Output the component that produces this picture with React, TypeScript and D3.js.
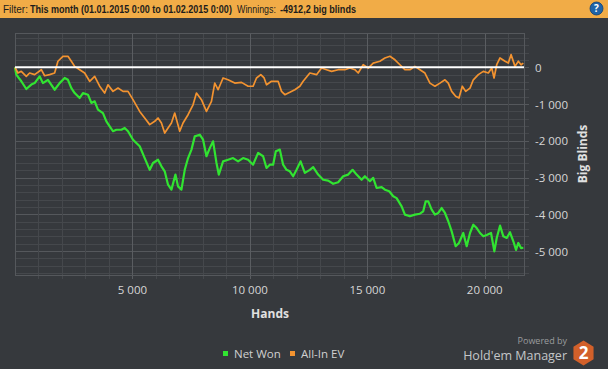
import React, { useLayoutEffect, useRef, useState } from "react";
import * as d3 from "d3";

const W = 608;
const H = 369;

// Net Won (big blinds) by hands played
const netWonHands = [0,55,268,481,694,835,1048,1189,1402,1687,1900,2114,2254,2399,2540,2753,2893,3106,3251,3392,3532,3745,3890,4031,4172,4316,4529,4670,4811,5024,
5309,5522,5735,5876,6089,6234,6374,6515,6660,6830,6941,7086,7227,7368,7513,7653,7866,8007,8151,8292,8433,8578,8676,8858,9071,9284,9498,9711,9924,10137,10350,10563,
10708,10848,10989,11104,11275,11415,11560,11701,11841,11986,12157,12340,12553,12694,12906,13119,13333,13546,13759,13972,14185,14372,14543,14756,14896,15109,15250,15395,15608,15749,15932,
16102,16247,16460,16600,16813,17026,17239,17380,17482,17594,17738,17879,18020,18164,18305,18446,18591,18761,18902,19085,19230,19371,19512,19656,19797,19938,20083,20266,20407,20509,20649,20790,20935,21075,21216,21331,21429,21544,21642];
const netWonValues = [0,-200,-380,-590,-470,-430,-245,-430,-340,-610,-430,-290,-340,-565,-700,-835,-700,-745,-970,-925,-1150,-1245,-1470,-1605,-1740,-1700,-1700,-1650,-1740,-1970,
-2150,-2470,-2790,-2605,-2515,-2695,-2830,-3195,-3330,-2920,-3240,-3330,-2790,-2470,-2240,-1880,-1835,-1970,-2420,-2200,-2015,-2605,-2920,-2560,-2515,-2470,-2560,-2470,-2515,-2650,-2330,-2420,
-2740,-2650,-2650,-2285,-2240,-2650,-2790,-2830,-2965,-2790,-2560,-2875,-2790,-2715,-2920,-3060,-3085,-3170,-3130,-2965,-2920,-2790,-2920,-3060,-2965,-3100,-3010,-3285,-3260,-3330,-3375,
-3510,-3560,-3785,-4010,-4055,-4010,-3985,-3920,-3650,-3650,-3875,-4010,-3965,-3830,-3965,-4190,-4465,-4870,-4780,-4510,-4870,-4510,-4285,-4375,-4510,-4600,-4565,-4510,-5010,-4645,-4310,-4600,-4645,-4490,-4735,-4970,-4780,-4920,-4912];

// All-In EV (big blinds) by hands played
const allInHands = [0,124,268,481,622,835,1121,1261,1474,1687,1828,2041,2254,2399,2540,2753,2966,3179,3392,3605,3818,3958,4172,4385,4598,4811,5024,
5309,5522,5735,5948,6089,6234,6374,6515,6660,6800,7013,7154,7368,7580,7725,7938,8151,8364,8504,8646,8858,9071,9357,9643,9924,10137,10282,10465,10606,
10708,10921,11202,11347,11488,11701,11914,12127,12268,12553,12838,13051,13264,13477,13759,14044,14257,14470,14611,14824,15037,15250,15535,15749,15962,
16174,16387,16600,16813,17026,17239,17452,17665,17879,18092,18305,18446,18591,18761,18902,19043,19188,19371,19512,19725,19938,20151,20296,20394,20509,20649,20862,21003,21118,21288,21429,21544,21642];
const allInValues = [0,-155,-110,-245,-155,-200,-65,-230,-200,-155,165,300,300,165,25,-65,-155,-380,-245,-515,-700,-475,-655,-565,-655,-655,-880,
-1200,-1380,-1560,-1470,-1380,-1515,-1790,-1650,-1515,-1245,-1740,-1515,-1290,-1020,-700,-880,-1200,-925,-430,-610,-290,-340,-430,-410,-515,-515,-290,-200,-290,
-475,-380,-380,-655,-745,-680,-610,-515,-380,-155,-200,-20,-65,-110,-65,-65,-20,-65,-155,70,-20,115,165,255,300,
205,70,-65,-65,25,-65,-155,-430,-515,-430,-340,-430,-655,-790,-835,-515,-655,-565,-340,-200,-110,-155,-20,-290,70,255,165,115,345,25,165,70,115];

const xTickValues = [5000, 10000, 15000, 20000];
const yTickValues = [0, -1000, -2000, -3000, -4000, -5000];
const seriesNames = ["Net Won", "All-In EV"];
const seriesColors = ["#31e431", "#f39330"];
const headerParts = ["Filter:", "This month (01.01.2015 0:00 to 01.02.2015 0:00)", "Winnings:", "-4912,2 big blinds"];

const locale = d3.formatLocale({ decimal: ",", thousands: " ", grouping: [3], currency: ["", ""], minus: "-" });
const fmt = locale.format(",d");

function pairs(xs: number[], ys: number[]): [number, number][] {
  const n = Math.min(xs.length, ys.length);
  const out: [number, number][] = [];
  for (let i = 0; i < n; i++) out.push([xs[i], ys[i]]);
  return out;
}

function FitText(props: { x: number; y: number; width: number; bold?: boolean; children: string }) {
  const ref = useRef<SVGTextElement>(null);
  const [s, setS] = useState(1);
  useLayoutEffect(() => {
    if (ref.current) {
      const w = ref.current.getComputedTextLength();
      if (w > 0) setS(props.width / w);
    }
  }, [props.width]);
  return (
    <text ref={ref} transform={`translate(${props.x},${props.y}) scale(${s},1)`}
      fontFamily="'Liberation Sans', sans-serif" fontSize={11.5} fontWeight={props.bold ? "bold" : "normal"} fill="#1c1c1c">
      {props.children}
    </text>
  );
}

export default function App() {
  const left = 15, right = 524, top = 33, bottom = 275;
  const x = d3.scaleLinear().domain([0, 21670]).range([left, right]);
  const y = d3.scaleLinear().domain([934, -5653]).range([top, bottom]);

  const xMinor = d3.range(1000, 21670, 1000);
  const yMinor = d3.range(-5600, 934, 200);

  const line = d3.line<[number, number]>().x(d => x(d[0])).y(d => y(d[1]));
  const green = line(pairs(netWonHands, netWonValues)) || "";
  const orange = line(pairs(allInHands, allInValues)) || "";

  const tickColor = "#d6d6d6";
  const font = "'Open Sans', 'Noto Sans', sans-serif";

  const hexR = 12.5;
  const hexC = [583.5, 353];
  const hex = d3.range(6).map(i => {
    const a = Math.PI / 3 * i - Math.PI / 2;
    return [hexC[0] + hexR * 0.93 * Math.cos(a), hexC[1] + hexR * Math.sin(a)].join(",");
  }).join(" ");

  return (
    <svg width={W} height={H} style={{ position: "fixed", left: 0, top: 0, display: "block" }}>
      <rect x={0} y={0} width={W} height={H} fill="#36393d" />
      {/* header */}
      <rect x={0} y={0} width={W} height={18} fill="#f1ac47" />
      <FitText x={3} y={13} width={25}>{headerParts[0]}</FitText>
      <FitText x={30} y={13} width={202} bold>{headerParts[1]}</FitText>
      <FitText x={237} y={13} width={39}>{headerParts[2]}</FitText>
      <FitText x={280} y={13} width={76} bold>{headerParts[3]}</FitText>
      <circle cx={596.5} cy={8.5} r={6.5} fill="#1f64a8" stroke="#0d3f73" strokeWidth={0.8} />
      <text x={596.5} y={12} textAnchor="middle" fontFamily={font} fontWeight="bold" fontSize={10} fill="#ffffff">?</text>

      {/* grid */}
      {yMinor.map(v => (
        <line key={"ym" + v} x1={left} x2={right + 5} y1={Math.round(y(v)) + 0.5} y2={Math.round(y(v)) + 0.5}
          stroke={v % 1000 === 0 ? "#55585c" : "#45484c"} strokeWidth={1} />
      ))}
      {xMinor.map(v => (
        <line key={"xm" + v} x1={Math.round(x(v)) + 0.5} x2={Math.round(x(v)) + 0.5} y1={top} y2={bottom + 4}
          stroke={v % 5000 === 0 ? "#5a5d61" : "#45484c"} strokeWidth={1} />
      ))}
      <rect x={left + 0.5} y={top + 0.5} width={right - left} height={bottom - top} fill="none" stroke="#55585c" strokeWidth={1} />

      {/* series */}
      <path d={green} fill="none" stroke={seriesColors[0]} strokeWidth={2.2} strokeLinejoin="round" />
      <path d={orange} fill="none" stroke={seriesColors[1]} strokeWidth={1.7} strokeLinejoin="round" />
      <line x1={left} x2={right} y1={y(0)} y2={y(0)} stroke="#ffffff" strokeWidth={2} />

      {/* axis labels */}
      {yTickValues.map(v => (
        <text key={"yt" + v} x={535} y={y(v) + 4.5} fontFamily={font} fontSize={11.5} fill={tickColor}>{fmt(v)}</text>
      ))}
      {xTickValues.map(v => (
        <text key={"xt" + v} x={x(v)} y={294} textAnchor="middle" fontFamily={font} fontSize={11.5} fill={tickColor}>{fmt(v)}</text>
      ))}
      <text x={270} y={318} textAnchor="middle" fontFamily={font} fontWeight="bold" fontSize={12} fill="#e0e0e0">Hands</text>
      <text transform={`translate(587,154) rotate(-90)`} textAnchor="middle" fontFamily={font} fontWeight="bold" fontSize={12} fill="#e0e0e0">Big Blinds</text>

      {/* legend */}
      <rect x={223} y={351} width={5} height={5} fill={seriesColors[0]} />
      <text x={234} y={358} fontFamily={font} fontSize={11.5} fill="#d0d0d0">{seriesNames[0]}</text>
      <rect x={290} y={351} width={5} height={5} fill={seriesColors[1]} />
      <text x={301} y={358} fontFamily={font} fontSize={11.5} fill="#d0d0d0">{seriesNames[1]}</text>

      {/* branding */}
      <text x={567} y={344} textAnchor="end" fontFamily={font} fontSize={9} fill="#9a9c9e">Powered by</text>
      <text x={567} y={360} textAnchor="end" fontFamily={font} fontSize={12.5} fill="#c4c6c8">Hold'em Manager</text>
      <polygon points={hex} fill="#d2602a" />
      <text x={hexC[0]} y={hexC[1] + 6} textAnchor="middle" fontFamily={font} fontWeight="bold" fontSize={17} fill="#ffffff">2</text>
    </svg>
  );
}
